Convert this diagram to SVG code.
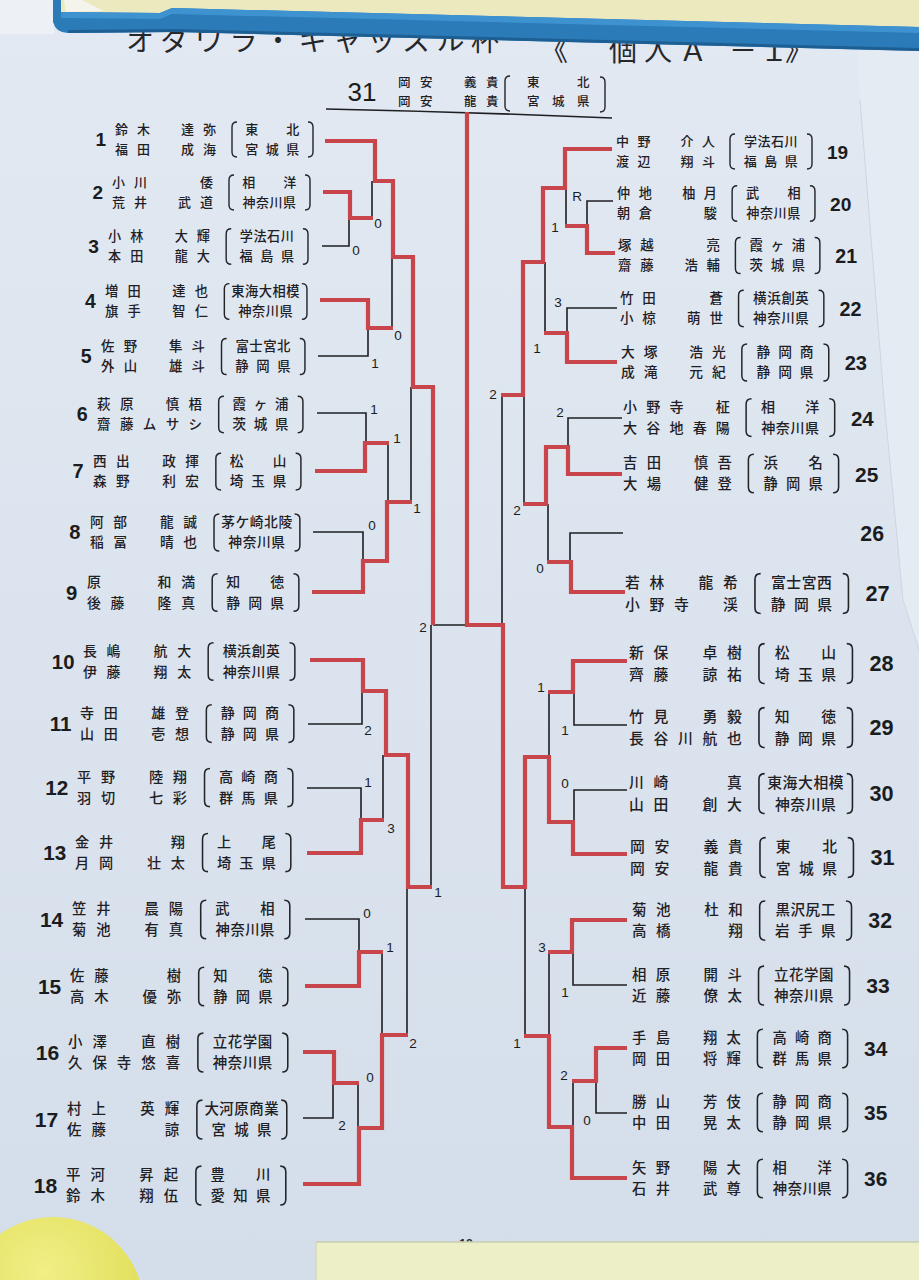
<svg xmlns="http://www.w3.org/2000/svg" xmlns:xlink="http://www.w3.org/1999/xlink" width="919" height="1280" viewBox="0 0 919 1280">
<style>
.nm{font-family:"Noto Sans CJK JP","Noto Sans CJK SC",sans-serif;font-size:13px;font-weight:500;fill:#1f2024}
.nL{letter-spacing:9px}
.nR{letter-spacing:8.5px}
.af{font-family:"Noto Sans CJK JP","Noto Sans CJK SC",sans-serif;font-size:13px;font-weight:500;fill:#1f2024;text-anchor:middle}
.s{letter-spacing:7.5px}
.c{letter-spacing:0.5px}
.no{font-family:"Liberation Sans",Arial,sans-serif;font-weight:bold;font-size:19px;fill:#1b1c20}
.noL{text-anchor:end}
.sc{font-family:"Liberation Sans",Arial,sans-serif;font-size:13.5px;fill:#1b1c20;text-anchor:middle}
.br{fill:none;stroke:#232428;stroke-width:1.4}
.rd{fill:none;stroke:#c9454c;stroke-width:4.2;stroke-linejoin:miter}
.bk{fill:none;stroke:#1e1f22;stroke-width:1.6}
.tt{font-family:"Noto Sans CJK JP","Noto Sans CJK SC",sans-serif;font-size:28px;fill:#26272b}
.hd{font-family:"Noto Sans CJK JP","Noto Sans CJK SC",sans-serif;font-size:12.5px;font-weight:500;fill:#1f2024}
</style>
<defs>
<linearGradient id="paper" x1="0" y1="0" x2="0" y2="1">
<stop offset="0" stop-color="#e2e9f2"/>
<stop offset="1" stop-color="#d4deea"/>
</linearGradient>
<radialGradient id="mag" cx="0.45" cy="0.3" r="0.7">
<stop offset="0" stop-color="#f1ef86"/>
<stop offset="1" stop-color="#dedb52"/>
</radialGradient>
<path id="brL" class="br" d="M122,-17 Q117,-17 117,-12 V13 Q117,18 122,18 M193,-17 Q198,-17 198,-12 V13 Q198,18 193,18"/>
<path id="brR" class="br" d="M119,-17 Q114,-17 114,-12 V13 Q114,18 119,18 M191,-17 Q196,-17 196,-12 V13 Q196,18 191,18"/>
</defs>

<g id="background">
<rect x="0" y="0" width="919" height="1280" fill="url(#paper)"/>
<path d="M857,46 L919,48 L919,650 L903,600 L884,400 L868,200 L860,100 Z" fill="#e5ebf2"/>
<path d="M860,100 L868,200 L884,400 L903,600 L919,650" fill="none" stroke="#cdd6e0" stroke-width="1"/>
</g>

<g id="title">
<text class="tt" x="126" y="51" letter-spacing="6.5">オダワラ・キャッスル杯</text>
<text class="tt" x="540 609 644 679 729 760 785" y="61">《個人Ａ－１》</text>
</g>

<g id="frame">
<rect x="0" y="0" width="54" height="34" fill="#edf1f5"/>
<path d="M60,0 L919,0 L919,27 L172,8 L160,13 L60,12 Z" fill="#ebe9bd"/>
<path d="M64,0 L82,0 L104,11 L66,12 Z" fill="#f4f3ec"/>
<path d="M53,0 L61,0 L61,12 L160,13 L172,8 L919,27 L919,51 L176,32 L68,33 Q56,33 53,22 Z" fill="#2b7bb9"/>
<path d="M61,12 L160,13 L172,8 L919,27 L919,33 L172,14 L160,19 L61,18 Z" fill="#3d92cf"/>
<path d="M68,33 L176,32 L919,51 L919,48 L176,29 L68,30 Z" fill="#1e5f93"/>
</g>

<g id="winner">
<text x="362" y="101" font-family="Liberation Sans, Arial, sans-serif" font-size="26" fill="#1b1c20" text-anchor="middle">31</text>
<text class="hd" letter-spacing="9.5"><tspan x="398" y="87">岡安　義貴</tspan><tspan x="398" y="105.5">岡安　龍貴</tspan></text>
<path class="br" d="M510,76 Q505,76 505,81 V106 Q505,111 510,111 M600,77 Q605,77 605,82 V107 Q605,112 600,112"/>
<text class="hd" letter-spacing="12.5"><tspan x="527" y="87">東　北</tspan><tspan x="527" y="105.5">宮城県</tspan></text>
</g>

<g id="connectors">
<path class="bk" d="M326,109 Q470,112 612,118"/>
<path class="bk" d="M372,218 V181 M322,246 H349 V218 M392,328 V257 M318,356 H368 V328 M317,413 H366 V443 M388,443 V502 M313,532 H363 V561 M411,502 V387 M433,625 H467 M431,887 V625 M308,724 H362 V691 M307,788 H361 V820 M383,820 V755 M305,919 H359 V952 M382,952 V1035 M358,1083 V1128 M303,1118 H333 V1083 M407,1035 V887"/>
<path class="bk" d="M502,395 V625 M613,201 H587 V226 M566,226 V188 M617,308 H567 V333 M545,333 V262 M622,418 H568 V447 M524,504 V395 M623,533 H570 V562 M548,562 V504 M549,692 V757 M627,725 H574 V692 M627,790 H574 V822 M549,952 V1036 M627,985 H573 V952 M573,1081 V1127 M627,1113 H596 V1081 M525,1036 V887"/>
<path class="rd" d="M325,141 H375 V181 H393 V257 H413 V387 H433 V625"/>
<path class="rd" d="M323,192 H350 V218 H373"/>
<path class="rd" d="M320,300 H368 V328 H393"/>
<path class="rd" d="M315,471 H365 V443 H389"/>
<path class="rd" d="M312,592 H363 V561 H387 V502 H412"/>
<path class="rd" d="M310,660 H363 V691 H386 V755 H408 V887 H432"/>
<path class="rd" d="M307,853 H361 V820 H384"/>
<path class="rd" d="M305,986 H359 V952 H383"/>
<path class="rd" d="M303,1052 H334 V1083 H359"/>
<path class="rd" d="M303,1184 H359 V1128 H382 V1035 H408"/>
<path class="rd" d="M627,854 H573 V822 H549 V757 H525 V887 H503 V625 H467 V112"/>
<path class="rd" d="M612,149 H565 V188 H543 V262 H523 V395 H501"/>
<path class="rd" d="M615,253 H587 V226 H565"/>
<path class="rd" d="M617,362 H567 V333 H544"/>
<path class="rd" d="M622,474 H568 V447 H546 V504 H523"/>
<path class="rd" d="M625,592 H571 V562 H547"/>
<path class="rd" d="M627,661 H573 V692 H548"/>
<path class="rd" d="M627,920 H572 V952 H548"/>
<path class="rd" d="M627,1048 H596 V1081 H572"/>
<path class="rd" d="M627,1178 H572 V1127 H549 V1036 H524"/>
</g>

<g id="scores">
<text class="sc" x="378" y="228">0</text>
<text class="sc" x="356" y="255">0</text>
<text class="sc" x="398" y="340">0</text>
<text class="sc" x="375" y="368">1</text>
<text class="sc" x="374" y="414">1</text>
<text class="sc" x="397" y="443">1</text>
<text class="sc" x="372" y="530">0</text>
<text class="sc" x="417" y="513">1</text>
<text class="sc" x="423" y="632">2</text>
<text class="sc" x="368" y="735">2</text>
<text class="sc" x="368" y="787">1</text>
<text class="sc" x="391" y="833">3</text>
<text class="sc" x="438" y="897">1</text>
<text class="sc" x="367" y="918">0</text>
<text class="sc" x="390" y="952">1</text>
<text class="sc" x="370" y="1082">0</text>
<text class="sc" x="342" y="1130">2</text>
<text class="sc" x="413" y="1048">2</text>
<text class="sc" x="493" y="399">2</text>
<text class="sc" x="577" y="201">R</text>
<text class="sc" x="555" y="232">1</text>
<text class="sc" x="558" y="307">3</text>
<text class="sc" x="537" y="353">1</text>
<text class="sc" x="560" y="417">2</text>
<text class="sc" x="517" y="515">2</text>
<text class="sc" x="540" y="573">0</text>
<text class="sc" x="541" y="692">1</text>
<text class="sc" x="565" y="735">1</text>
<text class="sc" x="565" y="788">0</text>
<text class="sc" x="542" y="952">3</text>
<text class="sc" x="565" y="997">1</text>
<text class="sc" x="517" y="1048">1</text>
<text class="sc" x="564" y="1080">2</text>
<text class="sc" x="587" y="1125">0</text>
</g>

<g id="e1" transform="translate(115,139)"><text class="no noL" x="-9" y="7">1</text><text class="nm nL"><tspan x="0" y="-4.7">鈴木　達弥</tspan><tspan x="0" y="14.5">福田　成海</tspan></text><use xlink:href="#brL"/><text class="af"><tspan class="s" x="161" y="-4.7">東　北</tspan><tspan class="s" x="161" y="14.5">宮城県</tspan></text></g>
<g id="e2" transform="translate(112,192)"><text class="no noL" x="-9" y="7">2</text><text class="nm nL"><tspan x="0" y="-4.7">小川　　倭</tspan><tspan x="0" y="14.5">荒井　武道</tspan></text><use xlink:href="#brL"/><text class="af"><tspan class="s" x="161" y="-4.7">相　洋</tspan><tspan class="c" x="157.5" y="14.5">神奈川県</tspan></text></g>
<g id="e3" transform="translate(108,246) scale(1.01)"><text class="no noL" x="-9" y="7">3</text><text class="nm nL"><tspan x="0" y="-4.7">小林　大輝</tspan><tspan x="0" y="14.5">本田　龍大</tspan></text><use xlink:href="#brL"/><text class="af"><tspan class="c" x="157.5" y="-4.7">学法石川</tspan><tspan class="s" x="161" y="14.5">福島県</tspan></text></g>
<g id="e4" transform="translate(105,301) scale(1.02)"><text class="no noL" x="-9" y="7">4</text><text class="nm nL"><tspan x="0" y="-4.7">増田　達也</tspan><tspan x="0" y="14.5">旗手　智仁</tspan></text><use xlink:href="#brL"/><text class="af"><tspan class="c" x="157.5" y="-4.7">東海大相模</tspan><tspan class="c" x="157.5" y="14.5">神奈川県</tspan></text></g>
<g id="e5" transform="translate(101,356) scale(1.03)"><text class="no noL" x="-9" y="7">5</text><text class="nm nL"><tspan x="0" y="-4.7">佐野　隼斗</tspan><tspan x="0" y="14.5">外山　雄斗</tspan></text><use xlink:href="#brL"/><text class="af"><tspan class="c" x="157.5" y="-4.7">富士宮北</tspan><tspan class="s" x="161" y="14.5">静岡県</tspan></text></g>
<g id="e6" transform="translate(97,414) scale(1.04)"><text class="no noL" x="-9" y="7">6</text><text class="nm nL"><tspan x="0" y="-4.7">萩原　慎梧</tspan><tspan x="0" y="14.5">齋藤ムサシ</tspan></text><use xlink:href="#brL"/><text class="af"><tspan class="s" x="161" y="-4.7">霞ヶ浦</tspan><tspan class="s" x="161" y="14.5">茨城県</tspan></text></g>
<g id="e7" transform="translate(93,471) scale(1.05)"><text class="no noL" x="-9" y="7">7</text><text class="nm nL"><tspan x="0" y="-4.7">西出　政揮</tspan><tspan x="0" y="14.5">森野　利宏</tspan></text><use xlink:href="#brL"/><text class="af"><tspan class="s" x="161" y="-4.7">松　山</tspan><tspan class="s" x="161" y="14.5">埼玉県</tspan></text></g>
<g id="e8" transform="translate(90,532) scale(1.06)"><text class="no noL" x="-9" y="7">8</text><text class="nm nL"><tspan x="0" y="-4.7">阿部　龍誠</tspan><tspan x="0" y="14.5">稲冨　晴也</tspan></text><use xlink:href="#brL"/><text class="af"><tspan class="c" x="157.5" y="-4.7">茅ケ崎北陵</tspan><tspan class="c" x="157.5" y="14.5">神奈川県</tspan></text></g>
<g id="e9" transform="translate(87,592) scale(1.07)"><text class="no noL" x="-9" y="7">9</text><text class="nm nL"><tspan x="0" y="-4.7">原　　和満</tspan><tspan x="0" y="14.5">後藤　隆真</tspan></text><use xlink:href="#brL"/><text class="af"><tspan class="s" x="161" y="-4.7">知　徳</tspan><tspan class="s" x="161" y="14.5">静岡県</tspan></text></g>
<g id="e10" transform="translate(83,661) scale(1.07)"><text class="no noL" x="-8" y="7">10</text><text class="nm nL"><tspan x="0" y="-4.7">長嶋　航大</tspan><tspan x="0" y="14.5">伊藤　翔太</tspan></text><use xlink:href="#brL"/><text class="af"><tspan class="c" x="157.5" y="-4.7">横浜創英</tspan><tspan class="c" x="157.5" y="14.5">神奈川県</tspan></text></g>
<g id="e11" transform="translate(80,723) scale(1.08)"><text class="no noL" x="-8" y="7">11</text><text class="nm nL"><tspan x="0" y="-4.7">寺田　雄登</tspan><tspan x="0" y="14.5">山田　壱想</tspan></text><use xlink:href="#brL"/><text class="af"><tspan class="s" x="161" y="-4.7">静岡商</tspan><tspan class="s" x="161" y="14.5">静岡県</tspan></text></g>
<g id="e12" transform="translate(77,787) scale(1.09)"><text class="no noL" x="-8" y="7">12</text><text class="nm nL"><tspan x="0" y="-4.7">平野　陸翔</tspan><tspan x="0" y="14.5">羽切　七彩</tspan></text><use xlink:href="#brL"/><text class="af"><tspan class="s" x="161" y="-4.7">高崎商</tspan><tspan class="s" x="161" y="14.5">群馬県</tspan></text></g>
<g id="e13" transform="translate(75,852) scale(1.09)"><text class="no noL" x="-8" y="7">13</text><text class="nm nL"><tspan x="0" y="-4.7">金井　　翔</tspan><tspan x="0" y="14.5">月岡　壮太</tspan></text><use xlink:href="#brL"/><text class="af"><tspan class="s" x="161" y="-4.7">上　尾</tspan><tspan class="s" x="161" y="14.5">埼玉県</tspan></text></g>
<g id="e14" transform="translate(72,919) scale(1.1)"><text class="no noL" x="-8" y="7">14</text><text class="nm nL"><tspan x="0" y="-4.7">笠井　晨陽</tspan><tspan x="0" y="14.5">菊池　有真</tspan></text><use xlink:href="#brL"/><text class="af"><tspan class="s" x="161" y="-4.7">武　相</tspan><tspan class="c" x="157.5" y="14.5">神奈川県</tspan></text></g>
<g id="e15" transform="translate(70,986) scale(1.1)"><text class="no noL" x="-8" y="7">15</text><text class="nm nL"><tspan x="0" y="-4.7">佐藤　　樹</tspan><tspan x="0" y="14.5">高木　優弥</tspan></text><use xlink:href="#brL"/><text class="af"><tspan class="s" x="161" y="-4.7">知　徳</tspan><tspan class="s" x="161" y="14.5">静岡県</tspan></text></g>
<g id="e16" transform="translate(68,1052) scale(1.11)"><text class="no noL" x="-8" y="7">16</text><text class="nm nL"><tspan x="0" y="-4.7">小澤　直樹</tspan><tspan x="0" y="14.5">久保寺悠喜</tspan></text><use xlink:href="#brL"/><text class="af"><tspan class="c" x="157.5" y="-4.7">立花学園</tspan><tspan class="c" x="157.5" y="14.5">神奈川県</tspan></text></g>
<g id="e17" transform="translate(67,1119) scale(1.11)"><text class="no noL" x="-8" y="7">17</text><text class="nm nL"><tspan x="0" y="-4.7">村上　英輝</tspan><tspan x="0" y="14.5">佐藤　　諒</tspan></text><use xlink:href="#brL"/><text class="af"><tspan class="c" x="157.5" y="-4.7">大河原商業</tspan><tspan class="s" x="161" y="14.5">宮城県</tspan></text></g>
<g id="e18" transform="translate(66,1185) scale(1.11)"><text class="no noL" x="-8" y="7">18</text><text class="nm nL"><tspan x="0" y="-4.7">平河　昇起</tspan><tspan x="0" y="14.5">鈴木　翔伍</tspan></text><use xlink:href="#brL"/><text class="af"><tspan class="s" x="161" y="-4.7">豊　川</tspan><tspan class="s" x="161" y="14.5">愛知県</tspan></text></g>

<g id="e19" transform="translate(616,151)"><text class="nm nR"><tspan x="0" y="-4.7">中野　介人</tspan><tspan x="0" y="14.5">渡辺　翔斗</tspan></text><use xlink:href="#brR"/><text class="af"><tspan class="c" x="155" y="-4.7">学法石川</tspan><tspan class="s" x="158.5" y="14.5">福島県</tspan></text><text class="no" x="211" y="8">19</text></g>
<g id="e20" transform="translate(617,203) scale(1.01)"><text class="nm nR"><tspan x="0" y="-4.7">仲地　柚月</tspan><tspan x="0" y="14.5">朝倉　　駿</tspan></text><use xlink:href="#brR"/><text class="af"><tspan class="s" x="158.5" y="-4.7">武　相</tspan><tspan class="c" x="155" y="14.5">神奈川県</tspan></text><text class="no" x="211" y="8">20</text></g>
<g id="e21" transform="translate(618,255) scale(1.03)"><text class="nm nR"><tspan x="0" y="-4.7">塚越　　亮</tspan><tspan x="0" y="14.5">齋藤　浩輔</tspan></text><use xlink:href="#brR"/><text class="af"><tspan class="s" x="158.5" y="-4.7">霞ヶ浦</tspan><tspan class="s" x="158.5" y="14.5">茨城県</tspan></text><text class="no" x="211" y="8">21</text></g>
<g id="e22" transform="translate(620,308) scale(1.04)"><text class="nm nR"><tspan x="0" y="-4.7">竹田　　蒼</tspan><tspan x="0" y="14.5">小椋　萌世</tspan></text><use xlink:href="#brR"/><text class="af"><tspan class="c" x="155" y="-4.7">横浜創英</tspan><tspan class="c" x="155" y="14.5">神奈川県</tspan></text><text class="no" x="211" y="8">22</text></g>
<g id="e23" transform="translate(621,362) scale(1.06)"><text class="nm nR"><tspan x="0" y="-4.7">大塚　浩光</tspan><tspan x="0" y="14.5">成滝　元紀</tspan></text><use xlink:href="#brR"/><text class="af"><tspan class="s" x="158.5" y="-4.7">静岡商</tspan><tspan class="s" x="158.5" y="14.5">静岡県</tspan></text><text class="no" x="211" y="8">23</text></g>
<g id="e24" transform="translate(623,417) scale(1.08)"><text class="nm nR"><tspan x="0" y="-4.7">小野寺　柾</tspan><tspan x="0" y="14.5">大谷地春陽</tspan></text><use xlink:href="#brR"/><text class="af"><tspan class="s" x="158.5" y="-4.7">相　洋</tspan><tspan class="c" x="155" y="14.5">神奈川県</tspan></text><text class="no" x="211" y="8">24</text></g>
<g id="e25" transform="translate(623,473) scale(1.1)"><text class="nm nR"><tspan x="0" y="-4.7">吉田　慎吾</tspan><tspan x="0" y="14.5">大場　健登</tspan></text><use xlink:href="#brR"/><text class="af"><tspan class="s" x="158.5" y="-4.7">浜　名</tspan><tspan class="s" x="158.5" y="14.5">静岡県</tspan></text><text class="no" x="211" y="8">25</text></g>
<g id="e26" transform="translate(624,533) scale(1.12)"><text class="no" x="211" y="7">26</text></g>
<g id="e27" transform="translate(625,593) scale(1.14)"><text class="nm nR"><tspan x="0" y="-4.7">若林　龍希</tspan><tspan x="0" y="14.5">小野寺　渓</tspan></text><use xlink:href="#brR"/><text class="af"><tspan class="c" x="155" y="-4.7">富士宮西</tspan><tspan class="s" x="158.5" y="14.5">静岡県</tspan></text><text class="no" x="211" y="7">27</text></g>
<g id="e28" transform="translate(629,663) scale(1.14)"><text class="nm nR"><tspan x="0" y="-4.7">新保　卓樹</tspan><tspan x="0" y="14.5">齊藤　諒祐</tspan></text><use xlink:href="#brR"/><text class="af"><tspan class="s" x="158.5" y="-4.7">松　山</tspan><tspan class="s" x="158.5" y="14.5">埼玉県</tspan></text><text class="no" x="211" y="7">28</text></g>
<g id="e29" transform="translate(629,727) scale(1.14)"><text class="nm nR"><tspan x="0" y="-4.7">竹見　勇毅</tspan><tspan x="0" y="14.5">長谷川航也</tspan></text><use xlink:href="#brR"/><text class="af"><tspan class="s" x="158.5" y="-4.7">知　徳</tspan><tspan class="s" x="158.5" y="14.5">静岡県</tspan></text><text class="no" x="211" y="7">29</text></g>
<g id="e30" transform="translate(629,793) scale(1.14)"><text class="nm nR"><tspan x="0" y="-4.7">川崎　　真</tspan><tspan x="0" y="14.5">山田　創大</tspan></text><use xlink:href="#brR"/><text class="af"><tspan class="c" x="155" y="-4.7">東海大相模</tspan><tspan class="c" x="155" y="14.5">神奈川県</tspan></text><text class="no" x="211" y="7">30</text></g>
<g id="e31" transform="translate(630,857) scale(1.14)"><text class="nm nR"><tspan x="0" y="-4.7">岡安　義貴</tspan><tspan x="0" y="14.5">岡安　龍貴</tspan></text><use xlink:href="#brR"/><text class="af"><tspan class="s" x="158.5" y="-4.7">東　北</tspan><tspan class="s" x="158.5" y="14.5">宮城県</tspan></text><text class="no" x="211" y="7">31</text></g>
<g id="e32" transform="translate(632,920) scale(1.12)"><text class="nm nR"><tspan x="0" y="-4.7">菊池　杜和</tspan><tspan x="0" y="14.5">高橋　　翔</tspan></text><use xlink:href="#brR"/><text class="af"><tspan class="c" x="155" y="-4.7">黒沢尻工</tspan><tspan class="s" x="158.5" y="14.5">岩手県</tspan></text><text class="no" x="211" y="7">32</text></g>
<g id="e33" transform="translate(632,985) scale(1.11)"><text class="nm nR"><tspan x="0" y="-4.7">相原　開斗</tspan><tspan x="0" y="14.5">近藤　僚太</tspan></text><use xlink:href="#brR"/><text class="af"><tspan class="c" x="155" y="-4.7">立花学園</tspan><tspan class="c" x="155" y="14.5">神奈川県</tspan></text><text class="no" x="211" y="7">33</text></g>
<g id="e34" transform="translate(632,1048) scale(1.1)"><text class="nm nR"><tspan x="0" y="-4.7">手島　翔太</tspan><tspan x="0" y="14.5">岡田　将輝</tspan></text><use xlink:href="#brR"/><text class="af"><tspan class="s" x="158.5" y="-4.7">高崎商</tspan><tspan class="s" x="158.5" y="14.5">群馬県</tspan></text><text class="no" x="211" y="7">34</text></g>
<g id="e35" transform="translate(632,1112) scale(1.1)"><text class="nm nR"><tspan x="0" y="-4.7">勝山　芳伎</tspan><tspan x="0" y="14.5">中田　晃太</tspan></text><use xlink:href="#brR"/><text class="af"><tspan class="s" x="158.5" y="-4.7">静岡商</tspan><tspan class="s" x="158.5" y="14.5">静岡県</tspan></text><text class="no" x="211" y="7">35</text></g>
<g id="e36" transform="translate(632,1178) scale(1.1)"><text class="nm nR"><tspan x="0" y="-4.7">矢野　陽大</tspan><tspan x="0" y="14.5">石井　武尊</tspan></text><use xlink:href="#brR"/><text class="af"><tspan class="s" x="158.5" y="-4.7">相　洋</tspan><tspan class="c" x="155" y="14.5">神奈川県</tspan></text><text class="no" x="211" y="7">36</text></g>

<g id="foreground">
<text x="466" y="1248" font-family="Liberation Sans, Arial, sans-serif" font-size="12" font-weight="bold" fill="#2a2b2f" text-anchor="middle">－18－</text>
<rect x="316" y="1242" width="603" height="38" fill="#edefc7"/>
<path d="M316,1242 H919" stroke="#c9cdb0" stroke-width="1.5"/>
<path d="M316,1242 V1280" stroke="#d6d9bb" stroke-width="1.5"/>
<circle cx="53" cy="1308" r="91" fill="url(#mag)"/>
</g>
</svg>
